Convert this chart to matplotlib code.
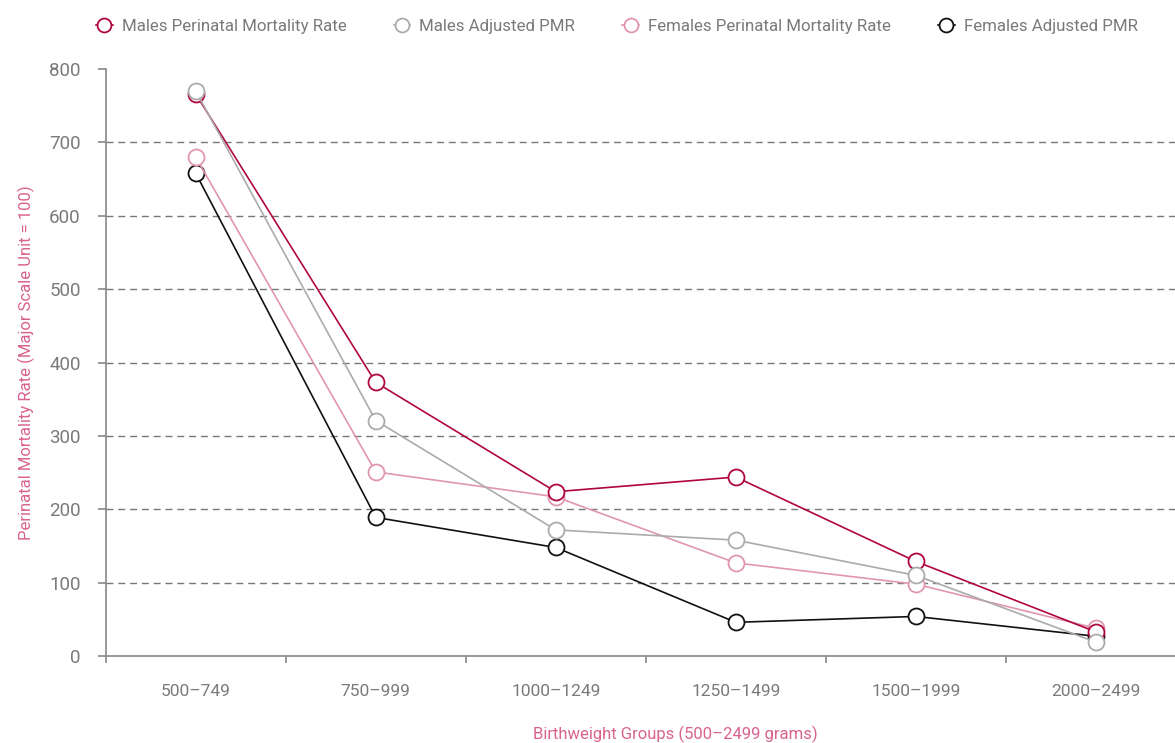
import matplotlib
matplotlib.use('Agg')
import matplotlib.pyplot as plt
from matplotlib.legend_handler import HandlerLine2D

plt.rcParams['font.family'] = ['Roboto', 'DejaVu Sans']

groups = ['500–749', '750–999', '1000–1249', '1250–1499', '1500–1999', '2000–2499']
males_pmr = [766, 373, 224, 244, 129, 33]
males_adj = [770, 321, 172, 158, 110, 19]
females_pmr = [680, 251, 217, 127, 98, 38]
females_adj = [658, 189, 148, 46, 54, 27]

# label, values, colour, zorder
series = [
    ('Males Perinatal Mortality Rate', males_pmr, '#B0063F', 5),
    ('Males Adjusted PMR', males_adj, '#ABABAB', 6),
    ('Females Perinatal Mortality Rate', females_pmr, '#E096AE', 3),
    ('Females Adjusted PMR', females_adj, '#111111', 2.5),
]

text_grey = '#7A7A7A'
pink = '#D9628F'


class MarkerLeftHandler(HandlerLine2D):
    # marker on the left, short line stub to the right
    def get_xdata(self, legend, xdescent, ydescent, width, height, fontsize):
        return [0.3 * width - xdescent, width - xdescent], [0.3 * width - xdescent]


fig = plt.figure(figsize=(11.75, 7.43), dpi=100)
ax = fig.add_axes([0.090, 0.117, 0.910, 0.790])

x = list(range(len(groups)))
handles = []
for label, vals, color, z in series:
    h, = ax.plot(x, vals, color=color, lw=1.2, marker='o', ms=11.5,
                 mfc='white', mec=color, mew=1.3, label=label, zorder=z)
    handles.append(h)

ax.set_ylim(0, 800)
ax.set_xlim(-0.5, 5.44)
ax.set_yticks(range(0, 801, 100))
for yv in range(100, 800, 100):
    ax.axhline(yv, color='#777777', lw=1, ls=(0, (5, 3.5)), zorder=1)

ax.set_xticks([i - 0.5 for i in range(len(groups))])
ax.set_xticklabels([])
ax.set_xticks(x, minor=True)
ax.set_xticklabels(groups, minor=True)
ax.tick_params(axis='x', which='minor', length=0, pad=20, labelsize=12.5, labelcolor=text_grey)
ax.tick_params(axis='x', which='major', length=5, width=1.2, color='#888888')
ax.tick_params(axis='y', length=6, width=1.2, color='#888888', labelsize=13.5,
               labelcolor=text_grey, pad=12)

for s in ['top', 'right']:
    ax.spines[s].set_visible(False)
for s in ['left', 'bottom']:
    ax.spines[s].set_color('#888888')
    ax.spines[s].set_linewidth(1.2)

ax.set_ylabel('Perinatal Mortality Rate (Major Scale Unit = 100)', color=pink, fontsize=12)
ax.yaxis.set_label_coords(-0.066, 0.5)
fig.text(675 / 1175, 1 - 734 / 743, 'Birthweight Groups (500–2499 grams)', color=pink,
         fontsize=12, ha='center', va='center')

leg = fig.legend(handles=handles, loc='center', bbox_to_anchor=(0.522, 1 - 26 / 743), ncol=4,
                 frameon=False, fontsize=12.2, handlelength=1.4, handletextpad=0.55,
                 columnspacing=2.35, handler_map={matplotlib.lines.Line2D: MarkerLeftHandler()})
for t in leg.get_texts():
    t.set_color(text_grey)
for lh in leg.legend_handles:
    lh.set_markersize(10)

fig.savefig('out.png', dpi=100)
